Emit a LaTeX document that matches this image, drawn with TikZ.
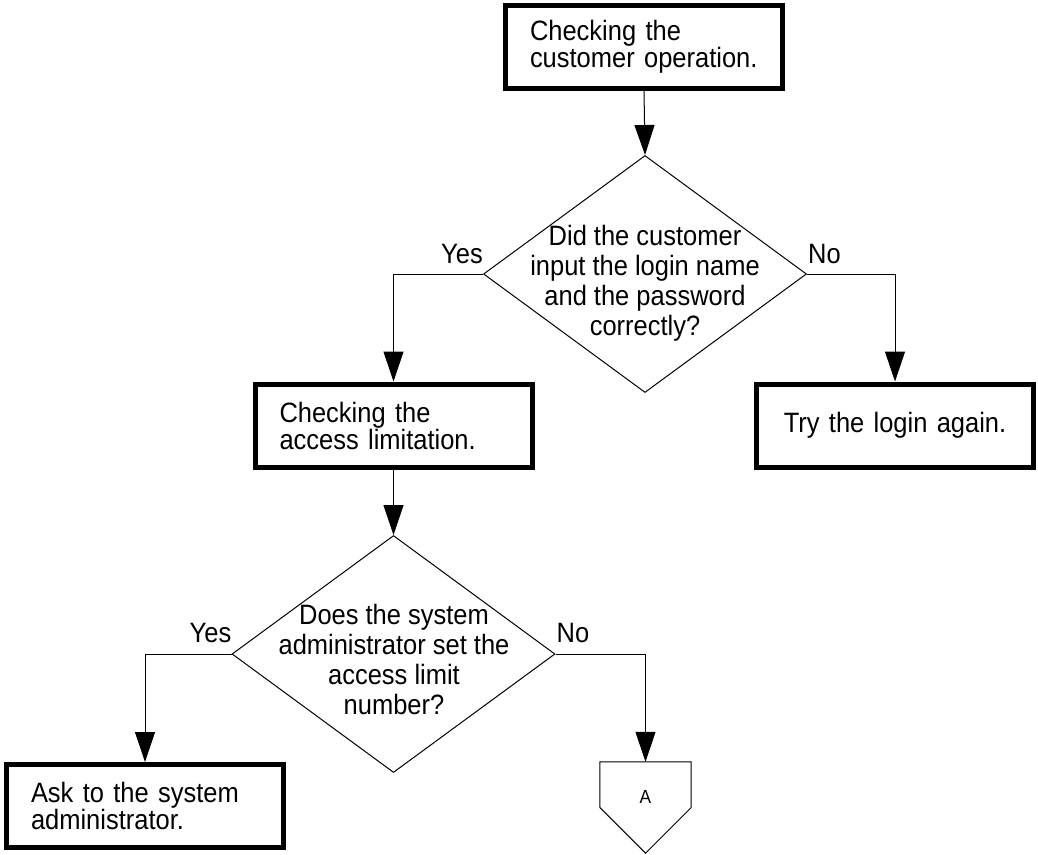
\documentclass[tikz,border=0pt]{standalone}
\usepackage{fontspec}
\setmainfont{Liberation Sans}
\newfontfamily\narrowsans[FakeStretch=0.91]{Liberation Sans}
\usetikzlibrary{shapes.geometric,arrows.meta}
\begin{document}
\begin{tikzpicture}[x=1pt,y=-1pt,
  every node/.style={font=\narrowsans\fontsize{28}{27}\selectfont},
  stepbox/.style={draw,line width=5pt,rectangle,minimum width=277pt,minimum height=83pt,
    inner xsep=24.5pt,inner ysep=0pt,text width=228pt,align=left},
  centerbox/.style={stepbox,align=center},
  decision/.style={draw,line width=1pt,diamond,minimum width=323pt,minimum height=237pt,inner sep=0pt},
  question/.style={align=center,inner sep=0pt,font=\narrowsans\fontsize{28}{30}\selectfont},
  answer/.style={inner sep=0pt},
  offpage/.style={minimum width=91pt,minimum height=91pt,inner sep=0pt,font=\narrowsans\fontsize{19}{19}\selectfont},
  flow/.style={line width=1pt,-{Triangle[length=30pt,width=20pt]}}
]
% page frame
\useasboundingbox[fill=white] (0,0) rectangle (1038,854);

% process boxes
\node[stepbox]   (check) at (644,46.5)  {Checking the\\customer operation.};
\node[stepbox]   (limit) at (393.5,425.5) {Checking the\\access limitation.};
\node[centerbox] (retry) at (895,425.5) {Try the login again.};
\node[stepbox]   (ask)   at (145,806) {Ask to the system\\administrator.};

% decisions
\node[decision] (login) at (645,274) {};
\node[question] (loginq) at (645,283) {Did the customer\\input the login name\\and the password\\correctly?};
\node[decision] (admin) at (393.5,654) {};
\node[question] (adminq) at (394,659) {Does the system\\administrator set the\\access limit\\number?};

% off-page connector
\node[offpage] (conA) at (645.5,807.5) {\raisebox{3.7pt}[0pt][0pt]{A}};
\draw[line width=1pt] (conA.north west) -- (conA.north east) -- (conA.east)
  -- (conA.south) -- (conA.west) -- cycle;

% branch labels
\node[answer,anchor=base east] (yes1) at ([yshift=11pt]login.west) {Yes};
\node[answer,anchor=base west] (no1)  at ([yshift=11pt,xshift=1pt]login.east) {No};
\node[answer,anchor=base east] (yes2) at ([yshift=12pt]admin.west) {Yes};
\node[answer,anchor=base west] (no2)  at ([yshift=12pt,xshift=1pt]admin.east) {No};

% connectors
\draw[flow] (check.south) -- (login.north);
\draw[flow] (login.west) -| (limit.north);
\draw[flow] (login.east) -| (retry.north);
\draw[flow] (limit.south) -- (admin.north);
\draw[flow] (admin.west) -| (ask.north);
\draw[flow] (admin.east) -| (conA.north);
\end{tikzpicture}
\end{document}
